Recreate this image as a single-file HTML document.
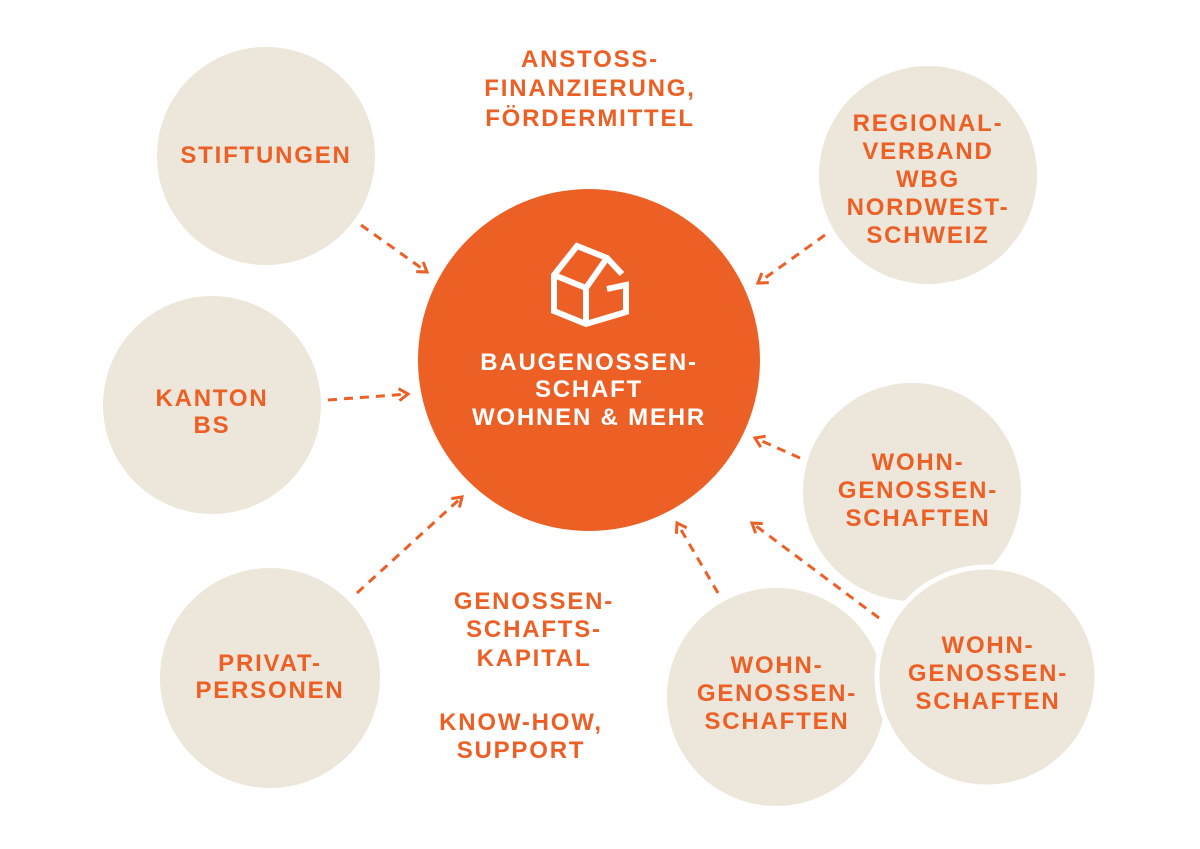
<!DOCTYPE html>
<html><head><meta charset="utf-8"><style>
html,body{margin:0;padding:0;background:#fff;}
svg{display:block}
text{font-family:"Liberation Sans",sans-serif;font-weight:bold;font-size:24px;letter-spacing:1.8px;fill:#ec6026;text-anchor:middle}
</style></head><body>
<svg width="1200" height="849" viewBox="0 0 1200 849">
<defs>
<marker id="a" markerWidth="14" markerHeight="14" refX="10" refY="7" orient="auto" markerUnits="userSpaceOnUse">
<path d="M1,1 L10,7 L1,13" fill="none" stroke="#ec6026" stroke-width="3"/>
</marker>
</defs>
<g fill="#ede6db">
<circle cx="266" cy="156" r="109"/>
<circle cx="212" cy="405" r="109"/>
<circle cx="270" cy="678" r="110"/>
<circle cx="928" cy="175" r="109"/>
<circle cx="912" cy="492" r="109"/>
<circle cx="776" cy="697" r="109"/>
<circle cx="987" cy="677" r="110" stroke="#fff" stroke-width="5"/>
</g>
<circle cx="589" cy="360" r="171" fill="#ec6026"/>
<g fill="none" stroke="#fff" stroke-width="6" stroke-linejoin="miter" stroke-linecap="butt">
<path d="M622,274 L607,258 L577,246 L554,275 L554,311 L586,324 L626,312 L626,285 L607,289"/>
<path d="M554,275 L586,288 L607,258"/>
<path d="M586,288 L586,324"/>
</g>
<g stroke="#ec6026" stroke-width="3" stroke-dasharray="9,7" fill="none" marker-end="url(#a)">
<line x1="361" y1="225" x2="427" y2="272"/>
<line x1="825" y1="235" x2="758" y2="283"/>
<line x1="328" y1="400" x2="408" y2="394"/>
<line x1="800" y1="458" x2="755" y2="438"/>
<line x1="357" y1="593" x2="462" y2="497"/>
<line x1="718" y1="593" x2="677" y2="523"/>
<line x1="879" y1="618" x2="752" y2="523"/>
</g>
<text x="266" y="163">STIFTUNGEN</text>
<text x="212" y="406">KANTON</text><text x="212" y="433">BS</text>
<text x="270" y="671">PRIVAT-</text><text x="270" y="698">PERSONEN</text>
<text x="928" y="131">REGIONAL-</text><text x="928" y="159">VERBAND</text><text x="928" y="187">WBG</text><text x="928" y="215">NORDWEST-</text><text x="928" y="243">SCHWEIZ</text>
<text x="918" y="470">WOHN-</text><text x="918" y="498">GENOSSEN-</text><text x="918" y="526">SCHAFTEN</text>
<text x="777" y="673">WOHN-</text><text x="777" y="701">GENOSSEN-</text><text x="777" y="729">SCHAFTEN</text>
<text x="988" y="653">WOHN-</text><text x="988" y="681">GENOSSEN-</text><text x="988" y="709">SCHAFTEN</text>
<text x="590" y="67">ANSTOSS-</text><text x="590" y="96">FINANZIERUNG,</text><text x="590" y="126">FÖRDERMITTEL</text>
<text x="534" y="609">GENOSSEN-</text><text x="534" y="637">SCHAFTS-</text><text x="534" y="666">KAPITAL</text>
<text x="521" y="730">KNOW-HOW,</text><text x="521" y="758">SUPPORT</text>
<text x="589" y="370" style="fill:#fff">BAUGENOSSEN-</text>
<text x="589" y="397" style="fill:#fff">SCHAFT</text>
<text x="589" y="425" style="fill:#fff">WOHNEN &amp; MEHR</text>
</svg>
</body></html>
